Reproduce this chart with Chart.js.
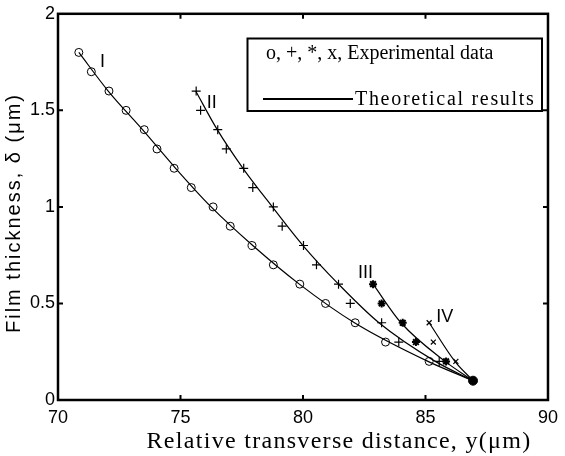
<!DOCTYPE html>
<html>
<head>
<meta charset="utf-8">
<script src="https://cdn.jsdelivr.net/npm/chart.js@4.4.0/dist/chart.umd.min.js"></script>
<style>
html,body{margin:0;padding:0;background:#fff;}
canvas{display:block;}
</style>
</head>
<body>
<canvas id="c" width="565" height="456"></canvas>
<script>
// ---- tick labels ----
const xTicks = [70, 75, 80, 85, 90];
const yTicks = [0, 0.5, 1, 1.5, 2];

// ---- experimental data ----
const expI_x  = [70.85, 71.36, 72.08, 72.78, 73.52, 74.04, 74.74, 75.44, 76.33, 77.03, 77.92, 78.79, 79.87, 80.92, 82.13, 83.37, 85.15];
const expI_y  = [1.8, 1.7, 1.6, 1.5, 1.4, 1.3, 1.2, 1.1, 1.0, 0.9, 0.8, 0.7, 0.6, 0.5, 0.4, 0.3, 0.2];
const expII_x = [75.64, 75.82, 76.52, 76.87, 77.58, 77.95, 78.79, 79.15, 80.02, 80.55, 81.45, 81.93, 83.21, 83.91, 85.56];
const expII_y = [1.6, 1.5, 1.4, 1.3, 1.2, 1.1, 1.0, 0.9, 0.8, 0.7, 0.6, 0.5, 0.4, 0.3, 0.2];
const expIII_x = [82.86, 83.21, 84.07, 84.61, 85.84];
const expIII_y = [0.6, 0.5, 0.4, 0.3, 0.2];
const expIV_x = [85.15, 85.32, 86.24];
const expIV_y = [0.4, 0.3, 0.2];

// ---- theoretical results ----
const thI_x  = [70.85, 72.05, 73.45, 74.8, 76.25, 77.95, 79.85, 82.1, 85.1, 86.94];
const thI_y  = [1.8, 1.6, 1.4, 1.2, 1.0, 0.8, 0.6, 0.4, 0.2, 0.1];
const thII_x = [75.62, 76.5, 77.55, 78.75, 80.0, 81.45, 83.1, 85.4, 86.94];
const thII_y = [1.6, 1.4, 1.2, 1.0, 0.8, 0.6, 0.4, 0.2, 0.1];
const thIII_x = [82.86, 84.0, 85.8, 86.94];
const thIII_y = [0.6, 0.4, 0.2, 0.1];
const thIV_x = [85.15, 86.2, 86.94];
const thIV_y = [0.4, 0.2, 0.1];

// common end point
const endX = [86.94];
const endY = [0.1];

// curve names and where they are written (data units)
const curveNames = ['I', 'II', 'III', 'IV'];
const nameX = [71.82, 76.28, 82.55, 85.79];
const nameY = [1.75, 1.54, 0.656, 0.43];

const xTitle = 'Relative transverse distance, y(\u03bcm)';
const yTitle = 'Film thickness, \u03b4 (\u03bcm)';
const legendLine1 = 'o, +, *, x, Experimental data';
const legendLine2 = 'Theoretical results';

const pts = (xs, ys) => xs.map((x, i) => ({x: x, y: ys[i]}));

function theory(xs, ys) {
  return {type: 'scatter', data: pts(xs, ys), showLine: true, pointRadius: 0,
          borderColor: '#000', borderWidth: 1.2, cubicInterpolationMode: 'monotone', fill: false};
}
function marks(xs, ys, style, r, bw) {
  return {type: 'scatter', data: pts(xs, ys), showLine: false, pointStyle: style,
          pointRadius: r, borderColor: '#000', borderWidth: bw, backgroundColor: 'rgba(0,0,0,0)'};
}

const decor = {
  id: 'decor',
  afterDraw(chart) {
    const ctx = chart.ctx;
    const a = chart.chartArea;
    const xs = chart.scales.x, ys = chart.scales.y;
    ctx.save();
    // frame
    ctx.strokeStyle = '#000';
    ctx.lineWidth = 2.5;
    ctx.strokeRect(a.left, a.top, a.right - a.left, a.bottom - a.top);
    // inner ticks
    ctx.lineWidth = 2;
    const tl = 5;
    xTicks.slice(1, -1).forEach(v => {
      const px = xs.getPixelForValue(v);
      ctx.beginPath();
      ctx.moveTo(px, a.bottom); ctx.lineTo(px, a.bottom - tl);
      ctx.moveTo(px, a.top); ctx.lineTo(px, a.top + tl);
      ctx.stroke();
    });
    yTicks.slice(1, -1).forEach(v => {
      const py = ys.getPixelForValue(v);
      ctx.beginPath();
      ctx.moveTo(a.left, py); ctx.lineTo(a.left + tl, py);
      ctx.moveTo(a.right, py); ctx.lineTo(a.right - tl, py);
      ctx.stroke();
    });
    // curve names
    ctx.fillStyle = '#000';
    ctx.font = '18px "Liberation Sans", Arial, sans-serif';
    ctx.textAlign = 'center';
    ctx.textBaseline = 'middle';
    curveNames.forEach((n, i) => {
      ctx.fillText(n, xs.getPixelForValue(nameX[i]), ys.getPixelForValue(nameY[i]));
    });
    // legend box
    ctx.lineWidth = 2;
    ctx.strokeRect(247.5, 38.5, 294.5, 72.5);
    ctx.font = '20px "Liberation Serif", "Times New Roman", serif';
    ctx.textAlign = 'left';
    ctx.fillText(legendLine1, 266, 54);
    ctx.beginPath();
    ctx.moveTo(263, 99); ctx.lineTo(353, 99);
    ctx.stroke();
    ctx.letterSpacing = '1.7px';
    ctx.fillText(legendLine2, 355, 100);
    // axis titles
    ctx.letterSpacing = '1.3px';
    ctx.font = '24px "Liberation Serif", "Times New Roman", serif';
    ctx.textAlign = 'center';
    ctx.fillText(xTitle, 339, 442);
    ctx.letterSpacing = '2px';
    ctx.font = '20px "Liberation Sans", Arial, sans-serif';
    ctx.translate(14, 213);
    ctx.rotate(-Math.PI / 2);
    ctx.fillText(yTitle, 0, 0);
    ctx.restore();
  }
};

const tickFont = {family: '"Liberation Sans", Arial, sans-serif', size: 18};

new Chart(document.getElementById('c'), {
  type: 'scatter',
  data: {
    datasets: [
      {type: 'scatter', data: pts(endX, endY), pointStyle: 'circle', pointRadius: 4.5,
       backgroundColor: '#000', borderColor: '#000', borderWidth: 1},
      marks(expI_x, expI_y, 'circle', 4, 1),
      marks(expII_x, expII_y, 'cross', 4.5, 1.2),
      marks(expIII_x, expIII_y, 'star', 4, 2),
      marks(expIV_x, expIV_y, 'crossRot', 3.5, 1.2),
      theory(thI_x, thI_y),
      theory(thII_x, thII_y),
      theory(thIII_x, thIII_y),
      theory(thIV_x, thIV_y)
    ]
  },
  options: {
    responsive: false,
    animation: false,
    devicePixelRatio: 1,
    layout: {padding: {left: 0, top: 13, right: 13, bottom: 0}},
    plugins: {legend: {display: false}, tooltip: {enabled: false}},
    scales: {
      x: {
        type: 'linear', min: 70, max: 90,
        afterBuildTicks(s) { s.ticks = xTicks.map(v => ({value: v})); },
        ticks: {font: tickFont, color: '#000', padding: 7, maxRotation: 0, autoSkip: false,
                callback: v => String(v)},
        grid: {display: true, drawOnChartArea: false, drawTicks: false},
        border: {display: false},
        afterFit(s) { s.height = 56; }
      },
      y: {
        type: 'linear', min: 0, max: 2,
        afterBuildTicks(s) { s.ticks = yTicks.map(v => ({value: v})); },
        ticks: {font: tickFont, color: '#000', padding: 3, autoSkip: false,
                callback: v => String(v)},
        grid: {display: true, drawOnChartArea: false, drawTicks: false},
        border: {display: false},
        afterFit(s) { s.width = 58; }
      }
    }
  },
  plugins: [decor]
});
</script>
</body>
</html>
